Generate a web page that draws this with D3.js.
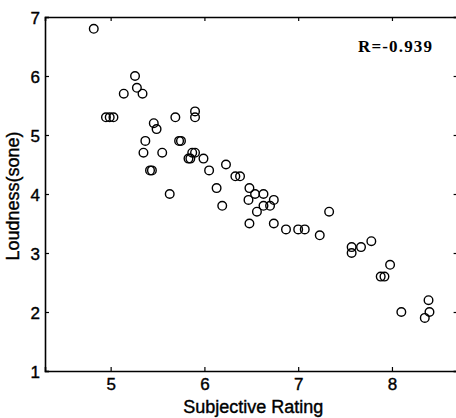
<!DOCTYPE html>
<html>
<head>
<meta charset="utf-8">
<script src="https://cdn.jsdelivr.net/npm/d3@7"></script>
<style>
  body { margin: 0; background: #fff; }
  svg { display: block; }
</style>
</head>
<body>
<svg id="chart" width="456" height="418"></svg>
<script>
// subjective rating (x) vs loudness in sone (y)
const rating = [
  4.82, 5.26, 5.28, 5.34, 5.14, 4.95, 4.99, 5.03, 5.46, 5.49,
  5.37, 5.35, 5.42, 5.44, 5.55, 5.63, 5.69, 5.73, 5.75, 5.90,
  5.90, 5.83, 5.85, 5.87, 5.90, 5.99, 6.05, 6.13, 6.23, 6.19,
  6.33, 6.38, 6.48, 6.54, 6.63, 6.47, 6.74, 6.63, 6.70, 6.56,
  6.48, 6.74, 6.87, 7.00, 7.07, 7.23, 7.33, 7.57, 7.57, 7.67,
  7.78, 7.98, 7.88, 7.92, 8.10, 8.39, 8.40, 8.35
];
const loudness = [
  6.8, 6.0, 5.8, 5.7, 5.7, 5.3, 5.3, 5.3, 5.2, 5.1,
  4.9, 4.7, 4.4, 4.4, 4.7, 4.0, 5.3, 4.9, 4.9, 5.4,
  5.3, 4.6, 4.6, 4.7, 4.7, 4.6, 4.4, 4.1, 4.5, 3.8,
  4.3, 4.3, 4.1, 4.0, 4.0, 3.9, 3.9, 3.8, 3.8, 3.7,
  3.5, 3.5, 3.4, 3.4, 3.4, 3.3, 3.7, 3.1, 3.0, 3.1,
  3.2, 2.8, 2.6, 2.6, 2.0, 2.2, 2.0, 1.9
];
const xTicks = [5, 6, 7, 8];
const yTicks = [1, 2, 3, 4, 5, 6, 7];
const corrLabel = "R=-0.939";

const svg = d3.select("#chart");
const plotLeft = 45, plotRight = 457.6, plotTop = 17, plotBottom = 371;

const x = d3.scaleLinear().domain([4.3, 8.7]).range([plotLeft, plotRight]);
const y = d3.scaleLinear().domain([1, 7]).range([plotBottom, plotTop]);

const tickFont = "Liberation Sans, Arial, sans-serif";

// box with inward ticks, matlab style
const axB = svg.append("g").attr("transform", `translate(0,${plotBottom})`)
  .call(d3.axisBottom(x).tickValues(xTicks).tickSize(-4).tickPadding(7).tickFormat(d3.format("d")));
const axT = svg.append("g").attr("transform", `translate(0,${plotTop})`)
  .call(d3.axisTop(x).tickValues(xTicks).tickSize(-4).tickFormat(""));
const axL = svg.append("g").attr("transform", `translate(${plotLeft},0)`)
  .call(d3.axisLeft(y).tickValues(yTicks).tickSize(-4).tickPadding(5).tickFormat(d3.format("d")));
const axR = svg.append("g").attr("transform", `translate(${plotRight},0)`)
  .call(d3.axisRight(y).tickValues(yTicks).tickSize(-4).tickFormat(""));

[axB, axT, axL, axR].forEach(g => {
  g.select(".domain").attr("stroke", "#000").attr("stroke-width", 1.6);
  g.selectAll(".tick line").attr("stroke", "#000").attr("stroke-width", 1.2);
  g.selectAll(".tick text")
    .attr("fill", "#000")
    .attr("stroke", "#000")
    .attr("stroke-width", 0.4)
    .style("font-family", tickFont)
    .style("font-size", "17px");
});
axL.selectAll(".tick text").attr("dy", "0.36em");

// scatter
svg.append("g").selectAll("circle")
  .data(rating.map((r, i) => [r, loudness[i]]))
  .enter()
  .append("circle")
  .attr("cx", d => x(d[0]))
  .attr("cy", d => y(d[1]))
  .attr("r", 4.3)
  .attr("fill", "none")
  .attr("stroke", "#000")
  .attr("stroke-width", 1.4);

// axis labels
svg.append("text")
  .attr("x", (plotLeft + plotRight) / 2 + 2)
  .attr("y", 413)
  .attr("text-anchor", "middle")
  .attr("stroke", "#000")
  .attr("stroke-width", 0.4)
  .style("font-family", tickFont)
  .style("font-size", "18px")
  .text("Subjective Rating");

svg.append("text")
  .attr("transform", "translate(19,196) rotate(-90)")
  .attr("text-anchor", "middle")
  .attr("stroke", "#000")
  .attr("stroke-width", 0.4)
  .style("font-family", tickFont)
  .style("font-size", "18px")
  .text("Loudness(sone)");

// correlation note
svg.append("text")
  .attr("x", 358)
  .attr("y", 52)
  .attr("textLength", 74)
  .style("font-family", "Liberation Serif, Times New Roman, serif")
  .style("font-weight", "bold")
  .style("font-size", "17px")
  .text(corrLabel);
</script>
</body>
</html>
